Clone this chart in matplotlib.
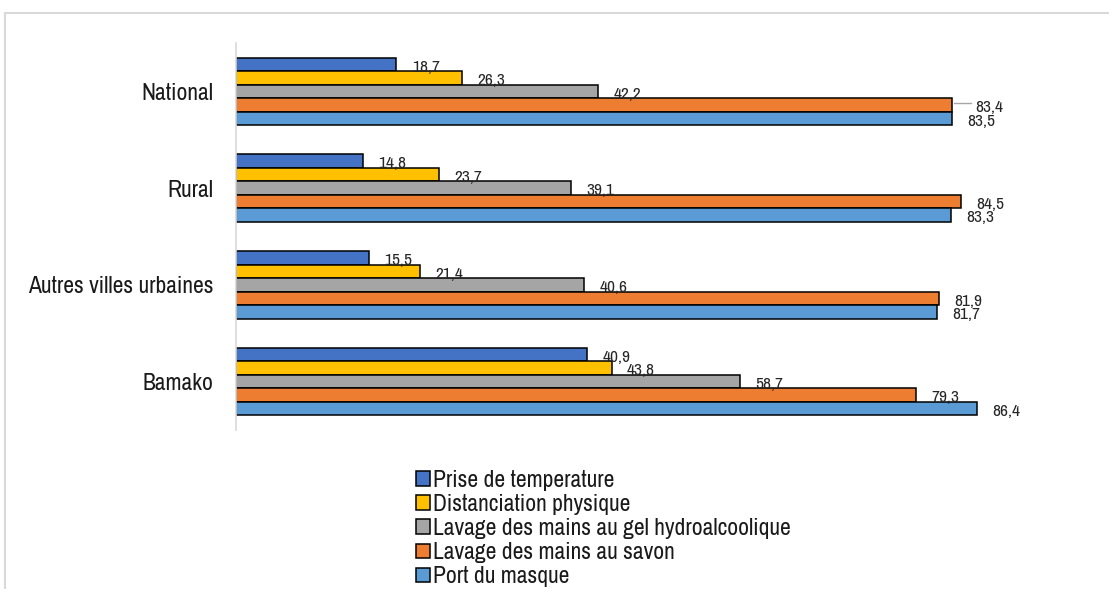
import matplotlib
matplotlib.use("Agg")
import matplotlib.pyplot as plt
from matplotlib import font_manager
from matplotlib.patches import Rectangle
import numpy as np

categories = ["National", "Rural", "Autres villes urbaines", "Bamako"]
series_names = ["Prise de temperature", "Distanciation physique",
                "Lavage des mains au gel hydroalcoolique",
                "Lavage des mains au savon", "Port du masque"]
prise = [18.7, 14.8, 15.5, 40.9]
distanciation = [26.3, 23.7, 21.4, 43.8]
gel = [42.2, 39.1, 40.6, 58.7]
savon = [83.4, 84.5, 81.9, 79.3]
masque = [83.5, 83.3, 81.7, 86.4]
colors = ["#4472C4", "#FFC000", "#A5A5A5", "#ED7D31", "#5B9BD5"]

names = {f.name for f in font_manager.fontManager.ttflist}
narrow = None
for cand in ["Liberation Sans Narrow", "Arial Narrow", "Archivo Narrow", "PT Sans Narrow", "Roboto Condensed"]:
    if cand in names:
        narrow = cand
        break
fam = ([narrow] if narrow else []) + ["Liberation Sans", "DejaVu Sans"]
plt.rcParams['font.family'] = fam

fig = plt.figure(figsize=(11.09, 5.89), dpi=100)
W, H = 1109, 589
ax = fig.add_axes([236 / W, 1 - 430 / H, 858 / W, 387 / H])

all_series = [prise, distanciation, gel, savon, masque]
bh = 0.14
y = np.arange(len(categories))
for i, (vals, name, c) in enumerate(zip(all_series, series_names, colors)):
    pos = y + (i - 2) * bh
    ax.barh(pos, vals, height=bh, color=c, edgecolor="black", linewidth=1.1,
            label=name)
    for k, (p, v) in enumerate(zip(pos, vals)):
        lab = f"{v:.1f}".replace(".", ",")
        dx = 11
        if k == 0 and i == 3:
            dx = 17
            ax.plot([v + 0.3, v + 2.3], [p - 0.02, p - 0.02], color="#A6A6A6", lw=1,
                    clip_on=False)
        ax.annotate(lab, xy=(v, p), xytext=(dx, -2), textcoords="offset points",
                    ha="left", va="center", fontsize=12.5,
                    color="#262626", annotation_clip=False)

ax.set_xlim(0, 100)
ax.set_ylim(len(categories) - 0.5, -0.5)
ax.set_yticks(y)
ax.set_yticklabels(categories, fontsize=17, color="#1a1a1a")
ax.tick_params(axis="y", length=0, pad=16)
ax.set_xticks([])
for s in ["top", "right", "bottom"]:
    ax.spines[s].set_visible(False)
ax.spines["left"].set_color("#D9D9D9")
ax.spines["left"].set_linewidth(1.2)

handles, labels = ax.get_legend_handles_labels()
leg = fig.legend(handles, labels, loc="upper left",
                 bbox_to_anchor=(416 / W, 1 - 470 / H), frameon=False,
                 fontsize=17, handlelength=0.58, handleheight=0.58,
                 handletextpad=0.15, labelspacing=0.13, borderaxespad=0,
                 borderpad=0)
for t in leg.get_texts():
    t.set_color("#1a1a1a")

fig.patches.append(Rectangle((5 / W, -0.1), 1.2, 1 - 13 / H + 0.1,
                             transform=fig.transFigure, fill=False,
                             edgecolor="#D9D9D9", linewidth=1.5))

fig.savefig("out.png", dpi=100)
